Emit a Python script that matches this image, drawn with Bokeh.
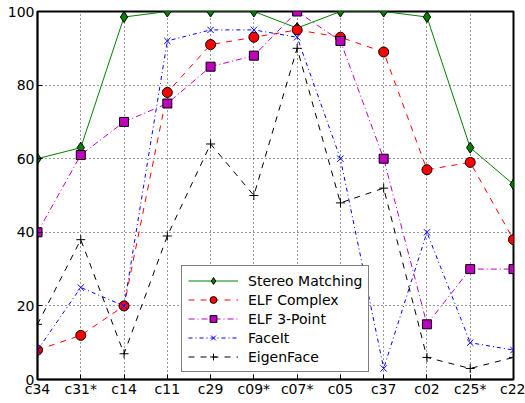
from bokeh.plotting import figure
from bokeh.models import Legend, LegendItem, FixedTicker, Range1d
from bokeh.embed import file_html
from bokeh.resources import INLINE

categories = ["c34", "c31*", "c14", "c11", "c29", "c09*", "c07*", "c05", "c37", "c02", "c25*", "c22"]
stereo = [60, 63, 98.5, 100, 100, 100, 95.5, 100, 100, 98.5, 63, 53]
elf_complex = [8, 12, 20, 78, 91, 93, 95, 93, 89, 57, 59, 38]
elf_3point = [40, 61, 70, 75, 85, 88, 100, 92, 60, 15, 30, 30]
faceit = [8, 25, 20, 92, 95, 95, 93, 60, 3, 40, 10, 8]
eigenface = [15, 38, 7, 39, 64, 50, 90, 48, 52, 6, 3, 6]
y_ticks = [0, 20, 40, 60, 80, 100]

xs = list(range(len(categories)))

p = figure(width=525, height=403, output_backend="svg", toolbar_location=None,
           x_range=Range1d(0, len(categories) - 1), y_range=Range1d(0, 100),
           min_border_left=37, min_border_right=12, min_border_top=11, min_border_bottom=24)
p.outline_line_color = "black"
p.outline_line_width = 2
p.background_fill_color = "white"
p.border_fill_color = "white"

FONT = "DejaVu Sans"
for ax in [p.xaxis[0], p.yaxis[0]]:
    ax.axis_line_color = "black"
    ax.axis_line_width = 1.5
    ax.major_tick_in = 5
    ax.major_tick_out = 0
    ax.minor_tick_line_color = None
    ax.major_label_text_font = FONT
    ax.major_label_text_font_size = "14px"
    ax.major_label_text_color = "black"
    ax.major_label_standoff = 3

p.xaxis[0].ticker = FixedTicker(ticks=xs)
p.xaxis[0].major_label_overrides = {i: c for i, c in enumerate(categories)}
p.xaxis[0].major_label_standoff = 1
p.yaxis[0].ticker = FixedTicker(ticks=y_ticks)

p.xgrid.ticker = FixedTicker(ticks=xs)
p.ygrid.ticker = FixedTicker(ticks=y_ticks)
for g in [p.xgrid[0], p.ygrid[0]]:
    g.grid_line_color = "black"
    g.grid_line_dash = "1 3"
    g.grid_line_alpha = 0.8

items = []
l1 = p.line(xs, stereo, line_color="#008000", line_width=1)
m1 = p.scatter(xs, stereo, marker="diamond", size=11, fill_color="#008000", line_color="black")
items.append(LegendItem(label="Stereo Matching", renderers=[l1, m1]))

l2 = p.line(xs, elf_complex, line_color="#ff0000", line_width=1, line_dash="6 6")
m2 = p.scatter(xs, elf_complex, marker="circle", size=10, fill_color="#ff0000", line_color="black")
items.append(LegendItem(label="ELF Complex", renderers=[l2, m2]))

l3 = p.line(xs, elf_3point, line_color="#bf00bf", line_width=1, line_dash="6 3 1 3")
m3 = p.scatter(xs, elf_3point, marker="square", size=9, fill_color="#bf00bf", line_color="black")
items.append(LegendItem(label="ELF 3-Point", renderers=[l3, m3]))

l4 = p.line(xs, faceit, line_color="#0000ff", line_width=1, line_dash="4 3 1 3")
m4 = p.scatter(xs, faceit, marker="x", size=9, line_color="#0000ff", line_width=1)
items.append(LegendItem(label="FaceIt", renderers=[l4, m4]))

l5 = p.line(xs, eigenface, line_color="black", line_width=1, line_dash="6 6")
m5 = p.scatter(xs, eigenface, marker="cross", size=9, line_color="black", line_width=1)
items.append(LegendItem(label="EigenFace", renderers=[l5, m5]))

legend = Legend(items=items, location=(144, 7), margin=0, padding=6,
                label_text_font=FONT, label_text_font_size="14px", label_text_color="black",
                glyph_width=50, glyph_height=17, label_height=17, spacing=2,
                label_standoff=10, border_line_color="black", border_line_width=1,
                background_fill_color="white", background_fill_alpha=1.0)
p.add_layout(legend, "center")

open("out.html", "w").write(file_html(p, INLINE))
